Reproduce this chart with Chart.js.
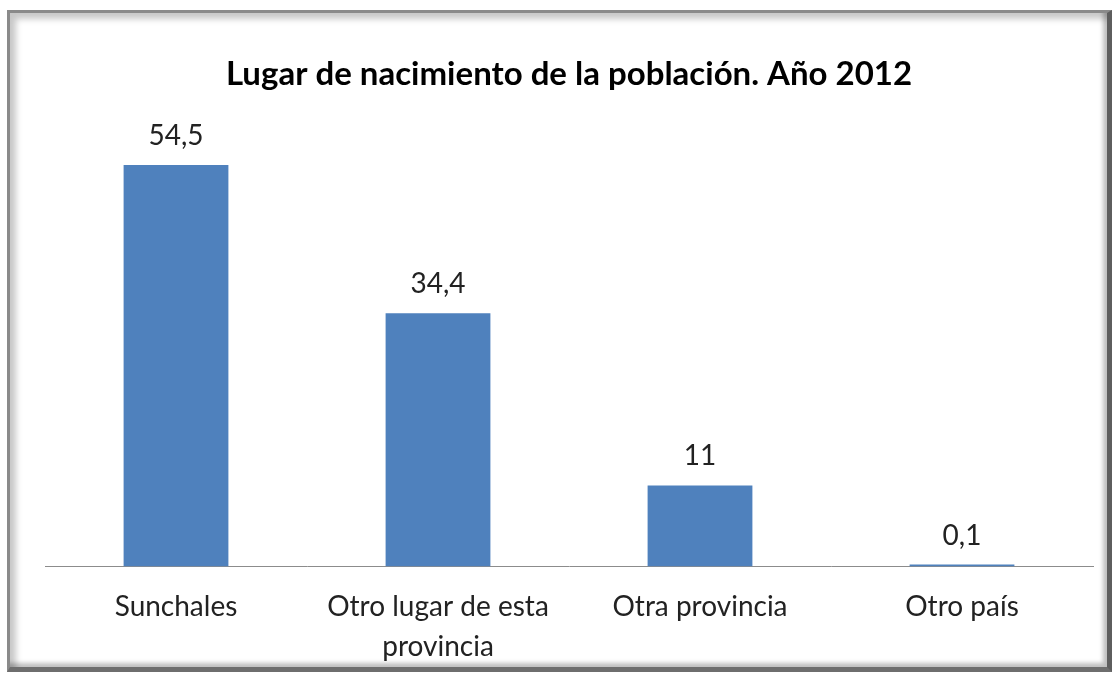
<!DOCTYPE html>
<html>
<head>
<meta charset="utf-8">
<script src="https://cdn.jsdelivr.net/npm/chart.js@4"></script>
<style>
  html, body { margin: 0; padding: 0; background: #fff; }
  #wrap { position: relative; width: 1112px; height: 677px; overflow: hidden; }
  #frame {
    position: absolute; left: 7px; top: 10px; width: 1097px; height: 654px;
    border-top: 3px solid #8a8a8a; border-left: 3px solid #8a8a8a;
    border-right: 5px solid #5e5e5e; border-bottom: 5px solid #6e6e6e;
    box-shadow: inset 14px 14px 6px -8px rgba(0,0,0,0.22), inset -6px -6px 4px -2px rgba(0,0,0,0.25);
  }
  #myChart { position: absolute; left: 0; top: 0; }
</style>
</head>
<body>
<div id="wrap">
  <div id="frame"></div>
  <canvas id="myChart" width="1112" height="677"></canvas>
</div>
<script>
const categories = ['Sunchales', ['Otro lugar de esta', 'provincia'], 'Otra provincia', 'Otro país'];
const values = [54.5, 34.4, 11, 0.1];
const valueLabels = ['54,5', '34,4', '11', '0,1'];

const fontFamily = 'Lato, "Open Sans", sans-serif';

// etiquetas de valor encima de cada barra
const barLabels = {
  id: 'barLabels',
  afterDatasetsDraw(chart) {
    const ctx = chart.ctx;
    const meta = chart.getDatasetMeta(0);
    ctx.save();
    ctx.font = '28px ' + fontFamily;
    ctx.fillStyle = '#222';
    ctx.textAlign = 'center';
    ctx.textBaseline = 'alphabetic';
    meta.data.forEach((bar, i) => {
      ctx.fillText(valueLabels[i], bar.x, bar.y - 20);
    });
    ctx.restore();
  }
};

const ctx = document.getElementById('myChart');
new Chart(ctx, {
  type: 'bar',
  data: {
    labels: categories,
    datasets: [{
      data: values,
      backgroundColor: '#4f81bd',
      borderWidth: 0,
      minBarLength: 2,
      barPercentage: 0.4,
      categoryPercentage: 1
    }]
  },
  options: {
    responsive: false,
    animation: false,
    layout: { padding: { left: 45, right: 19, top: 0, bottom: 0 } },
    scales: {
      x: {
        grid: { display: false, drawTicks: false },
        border: { display: true, color: '#8c8c8c', width: 1 },
        ticks: {
          color: '#222',
          padding: 21,
          maxRotation: 0,
          autoSkip: false,
          font: { family: fontFamily, size: 28, lineHeight: 1.42 }
        },
        afterFit: (scale) => { scale.height = 110.5; }
      },
      y: {
        display: false,
        min: 0,
        max: 60
      }
    },
    plugins: {
      legend: { display: false },
      tooltip: { enabled: false },
      title: {
        display: true,
        text: 'Lugar de nacimiento de la población. Año 2012',
        color: '#000',
        font: { family: fontFamily, size: 33, weight: 'bold', lineHeight: 1.2 },
        padding: { top: 55, bottom: 30 }
      }
    }
  },
  plugins: [barLabels]
});
</script>
</body>
</html>
